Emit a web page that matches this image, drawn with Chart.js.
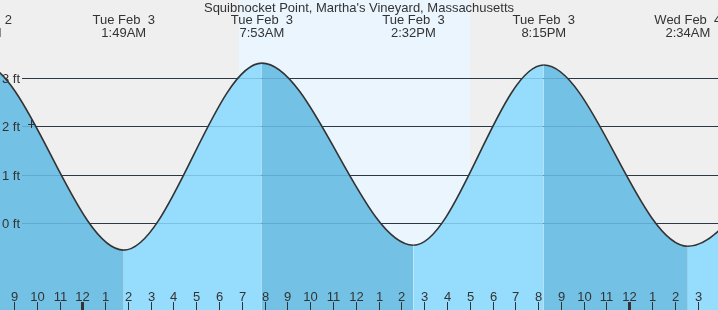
<!DOCTYPE html>
<html lang="en">
<head>
<meta charset="UTF-8">
<title>Squibnocket Point tides</title>
<script src="https://cdn.jsdelivr.net/npm/chart.js"></script>
<style>
  html, body { margin: 0; padding: 0; background: #efefef; }
  canvas { display: block; }
</style>
</head>
<body>
<canvas id="tideChart" width="718" height="310"></canvas>
<script>
// hours are counted from midnight, Tue Feb 3
const tideHours = [-10.8, -4.53, 1.82, 7.88, 14.53, 20.25, 26.57, 32.7];
const tideFeet = [-0.5, 3.33, -0.56, 3.31, -0.46, 3.27, -0.48, 3.2];
const tideDays = ['Mon Feb  2', 'Mon Feb  2', 'Tue Feb  3', 'Tue Feb  3', 'Tue Feb  3', 'Tue Feb  3', 'Wed Feb  4', 'Wed Feb  4'];
const tideTimes = ['1:10PM', '7:28PM', '1:49AM', '7:53AM', '2:32PM', '8:15PM', '2:34AM', '8:40AM'];
const feetTicks = [0, 1, 2, 3];
// 9PM Mon .. 3AM Wed, one per hour
const hourLabels = ['9','10','11','12','1','2','3','4','5','6','7','8','9','10','11','12','1','2','3','4','5','6','7','8','9','10','11','12','1','2','3'];
const firstHour = -3;
const midnights = [0, 24];
const daylight = [6.88, 17.0];
const nowMark = [-2.25, 2.04];

const FONT = '13px "Liberation Sans", Arial, sans-serif';
const INK = '#333';

const tidePainter = {
  id: 'tidePainter',
  beforeDraw(chart) {
    const {ctx, width, height} = chart;
    ctx.save();
    ctx.fillStyle = '#efefef';
    ctx.fillRect(0, 0, width, height);
    ctx.restore();
  },
  beforeDatasetsDraw(chart) {
    const {ctx, chartArea: a, scales: {x, y}} = chart;
    ctx.save();
    // daylight band
    const d0 = x.getPixelForValue(daylight[0]);
    const d1 = x.getPixelForValue(daylight[1]);
    ctx.fillStyle = '#ebf5fe';
    ctx.fillRect(Math.round(d0), a.top, Math.round(d1) - Math.round(d0), a.bottom - a.top);

    // grid lines
    ctx.fillStyle = INK;
    feetTicks.forEach(v => ctx.fillRect(22, Math.round(y.getPixelForValue(v)), a.right - 22, 1));

    // title and high/low labels
    ctx.font = FONT;
    ctx.textAlign = 'center';
    ctx.fillText("Squibnocket Point, Martha's Vineyard, Massachusetts", (a.left + a.right) / 2, 12);
    tideHours.forEach((h, i) => {
      const px = x.getPixelForValue(h);
      ctx.fillText(tideDays[i], px, 24);
      ctx.fillText(tideTimes[i], px, 37);
    });
    ctx.restore();
  },
  afterDatasetsDraw(chart) {
    const {ctx, chartArea: a, scales: {x, y}} = chart;
    ctx.save();
    // grid showing faintly through the water
    ctx.fillStyle = 'rgba(20,80,130,0.2)';
    feetTicks.forEach(v => ctx.fillRect(22, Math.round(y.getPixelForValue(v)), a.right - 22, 1));

    ctx.font = FONT;
    ctx.fillStyle = INK;
    ctx.textAlign = 'right';
    feetTicks.forEach(v => ctx.fillText(v + ' ft', 20, Math.round(y.getPixelForValue(v)) + 5));

    // hour ticks along the bottom
    ctx.textAlign = 'center';
    hourLabels.forEach((lab, i) => {
      const h = firstHour + i;
      const px = Math.round(x.getPixelForValue(h));
      ctx.fillText(lab, px + 0.5, 301);
      if (midnights.includes(h)) ctx.fillRect(px - 1, 302, 3, 8);
      else ctx.fillRect(px, 302, 1, 8);
    });

    // current time cross
    const mx = Math.round(x.getPixelForValue(nowMark[0]));
    const my = Math.round(y.getPixelForValue(nowMark[1]));
    ctx.fillRect(mx - 3, my, 7, 1);
    ctx.fillRect(mx, my - 4, 1, 8);
    ctx.restore();
  }
};

new Chart(document.getElementById('tideChart'), {
  type: 'line',
  data: {
    datasets: [{
      data: tideHours.map((h, i) => ({x: h, y: tideFeet[i]})),
      borderColor: INK,
      borderWidth: 1.6,
      pointRadius: 0,
      fill: 'start',
      cubicInterpolationMode: 'monotone',
      segment: {
        backgroundColor: c => c.p1.parsed.y < c.p0.parsed.y ? '#73c1e5' : '#96dcfc'
      }
    }]
  },
  options: {
    responsive: false,
    animation: false,
    layout: { padding: 0 },
    elements: { line: { capBezierPoints: false } },
    scales: {
      x: { type: 'linear', display: false, min: -3.611, max: 27.894 },
      y: { display: false, min: -1.8, max: 4.617 }
    },
    plugins: { legend: { display: false }, tooltip: { enabled: false } }
  },
  plugins: [tidePainter]
});
</script>
</body>
</html>
